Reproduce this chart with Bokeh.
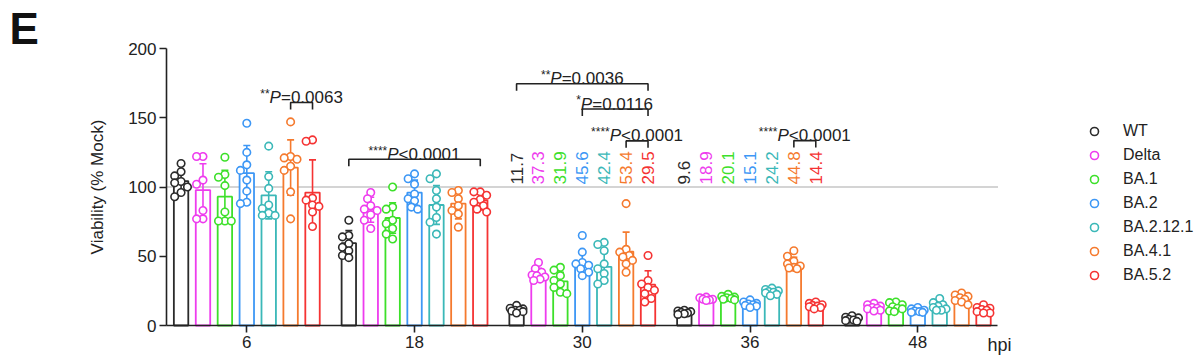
import math
from bokeh.plotting import figure
from bokeh.models import ColumnDataSource, FixedTicker, Label, Legend, LegendItem, Range1d
from bokeh.core.properties import value
from bokeh.embed import file_html
from bokeh.resources import INLINE

FONT = "Liberation Sans"

# ---------------- data ----------------
series = ["WT", "Delta", "BA.1", "BA.2", "BA.2.12.1", "BA.4.1", "BA.5.2"]
colors = ["#2b2b2b", "#ee3cee", "#3de02a", "#3d97f5", "#3bb8b8", "#f57a2e", "#f53333"]
timepoints = ["6", "18", "30", "36", "48"]

means_6 = [104.3, 97.8, 93.0, 110.0, 94.0, 114.0, 96.0]
means_18 = [59.5, 83.6, 77.6, 96.0, 87.0, 88.0, 90.4]
means_30 = [11.7, 37.3, 31.9, 45.6, 42.4, 53.4, 29.5]
means_36 = [9.6, 18.9, 20.1, 15.1, 24.2, 44.8, 14.4]
means_48 = [4.8, 12.5, 13.0, 10.5, 13.5, 18.5, 11.5]

sd_6 = [7, 19, 19, 20, 17, 20, 23.6]
sd_18 = [9, 9, 11, 9, 14, 11, 7]
sd_30 = [2, 4, 6.5, 8, 10, 14, 10]
sd_36 = [1.2, 1.2, 1.5, 2, 2, 4.5, 1.8]
sd_48 = [1.5, 2, 2.5, 1.5, 3, 3, 2]

points_6 = [
    [117, 111, 108, 104, 103, 100, 96, 93],
    [122, 122, 105, 102, 83, 77, 77],
    [121.5, 109, 107, 101, 82, 75.5, 75.5, 75.5],
    [146, 125, 116, 112, 105, 97, 89, 88],
    [129.5, 107.5, 99, 87, 84.5, 81, 79.5, 79.5],
    [147, 122, 121, 120, 115, 112, 96.5, 77],
    [134, 133, 92, 90.5, 87, 86, 82, 71.5],
]
points_18 = [
    [76, 65, 64, 59, 56.5, 54, 50.5, 49],
    [96, 91.5, 86.5, 84, 83, 80, 76, 70],
    [100, 85.5, 84, 76, 73.5, 70, 66, 62.5],
    [109.5, 106, 102, 95, 91.5, 90, 85.5, 84],
    [109.5, 106, 97.5, 91.5, 85.5, 78, 74.5, 66],
    [97.5, 96, 91.5, 86.5, 83, 80.5, 71],
    [96.5, 96.5, 94, 91, 89, 86.5, 84, 82],
]
points_30 = [
    [14.5, 12.5, 12, 11, 11, 10.5, 10, 9],
    [45.5, 41, 38.5, 36.5, 36, 35, 33.5, 32.5],
    [42, 40, 36, 32.5, 30, 27.5, 24, 23],
    [65, 53, 45.5, 44.5, 43.5, 41, 38.5, 36],
    [60, 58.5, 54, 44.5, 41, 37.5, 32.5, 30],
    [88, 55, 53, 50.5, 49.5, 47, 44.5, 38.5],
    [50.5, 32.5, 30, 27.5, 25.5, 23, 19.5, 17],
]
points_36 = [
    [11, 10.5, 10, 9.5, 9, 8.5, 8],
    [20.5, 20, 19, 19, 18.5, 18],
    [22.5, 21, 20.5, 20, 19.5, 19, 18.5],
    [18.5, 17, 16, 15.5, 15, 14.5, 14, 13],
    [27, 26, 25, 24.5, 24, 23.5, 22.5, 21.5],
    [54, 50, 46.5, 44.5, 43, 42, 41.5, 41],
    [17, 16, 15, 14.5, 14, 13.5, 13, 12],
]
points_48 = [
    [7, 6, 5.5, 4.5, 4, 3.5, 3],
    [16, 15, 14, 13, 12.5, 12, 11, 10.5],
    [17, 16.5, 15, 13.5, 12.5, 12, 10.5, 10],
    [13, 12, 11, 10.5, 10, 9.5, 9.5],
    [19.5, 16.5, 15, 14, 13, 12, 11, 11],
    [23.5, 22, 21, 20, 19, 18, 17, 15],
    [15, 13, 12.5, 11.5, 11, 10, 9, 9],
]

# mean labels shown above the bars at 30 and 36 hpi
label_groups = [2, 3]
label_values = [means_30, means_36]

# significance annotations
sig_groups = [0, 1, 2, 2, 2, 3]
sig_from = [5, 0, 0, 3, 5, 5]
sig_to = [6, 6, 6, 6, 6, 6]
sig_y = [161, 120, 174.5, 156.3, 133.3, 133.5]
sig_stars = ["**", "****", "**", "*", "****", "****"]
sig_rest = ["=0.0063", "<0.0001", "=0.0036", "=0.0116", "<0.0001", "<0.0001"]

reference_line = 100
y_ticks = [0, 50, 100, 150, 200]

all_means = [means_6, means_18, means_30, means_36, means_48]
all_sd = [sd_6, sd_18, sd_30, sd_36, sd_48]
all_points = [points_6, points_18, points_30, points_36, points_48]

# ---------------- layout constants (pixels) ----------------
W, H = 1200, 363
PX_X = 167.75          # px per group
PX_Y = 1.385           # px per % unit
G0_PX = 246.3          # x pixel of first group
Y0_PX = 325.0          # y pixel (from top) of value 0
XR = (-G0_PX / PX_X, (W - G0_PX) / PX_X)
YR = ((Y0_PX - H) / PX_Y, Y0_PX / PX_Y)
AX_LEFT = (166 - G0_PX) / PX_X
AX_RIGHT = (997 - G0_PX) / PX_X
STEP = 0.1306
BAR_W = 0.086


def xpos(g, s):
    return g + (s - 3) * STEP


def swarm(vals, d=6.6):
    placed, offs = [], []
    cands = [0, -3.2, 3.2, -6.4, 6.4, -1.6, 1.6, -4.8, 4.8]
    for v in vals:
        y = v * PX_Y
        best, best_score = 0, None
        for c in cands:
            mind = min([math.hypot(c - px, y - py) for px, py in placed] or [99])
            if mind >= d:
                best = c
                break
            if best_score is None or mind > best_score:
                best, best_score = c, mind
        placed.append((best, y))
        offs.append(best / PX_X)
    return offs


METRIC = {"*": 0.389, "P": 0.667, "=": 0.584, "<": 0.584, ".": 0.278}


def tw(s, size):
    return sum(METRIC.get(c, 0.556) for c in s) * size


# ---------------- figure ----------------
p = figure(width=W, height=H, x_range=Range1d(*XR), y_range=Range1d(*YR),
           output_backend="svg", toolbar_location=None,
           min_border_left=0, min_border_right=0, min_border_top=0, min_border_bottom=0)
p.grid.visible = False
p.outline_line_color = None
p.background_fill_color = "white"

# bars + error bars
bx, btop, bcol = [], [], []
ex0, ey0, ex1, ey1, ecol = [], [], [], [], []
cap = 3.5 / PX_X
for g in range(5):
    for s in range(7):
        x = xpos(g, s)
        m = all_means[g][s]
        sd = all_sd[g][s]
        bx.append(x); btop.append(m); bcol.append(colors[s])
        lo, hi = max(m - sd, 0), m + sd
        ex0 += [x, x - cap, x - cap]
        ex1 += [x, x + cap, x + cap]
        ey0 += [lo, hi, lo]
        ey1 += [hi, hi, lo]
        ecol += [colors[s]] * 3

p.vbar(x="x", top="top", bottom=0, width=BAR_W, fill_color="white", line_color="color",
       line_width=1.8, source=ColumnDataSource(dict(x=bx, top=btop, color=bcol)))
p.segment(x0="x0", y0="y0", x1="x1", y1="y1", line_color="color", line_width=1.6,
          source=ColumnDataSource(dict(x0=ex0, y0=ey0, x1=ex1, y1=ey1, color=ecol)))

# reference line (dotted) between the axis ends
p.segment(x0=[AX_LEFT], y0=[reference_line], x1=[AX_RIGHT], y1=[reference_line],
          line_color="#555555", line_width=1.2, line_dash="1 1", level="underlay")

# points
renderers = []
for s in range(7):
    xs, ys = [], []
    for g in range(5):
        vals = all_points[g][s]
        offs = swarm(vals)
        xs += [xpos(g, s) + o for o in offs]
        ys += vals
    r = p.scatter(x=xs, y=ys, marker="circle", size=7.5, fill_color="white",
                  line_color=colors[s], line_width=1.6)
    renderers.append(r)

# rotated mean labels
lx, ltxt, lcol = [], [], []
for g, vals in zip(label_groups, label_values):
    for s in range(7):
        lx.append(xpos(g, s)); ltxt.append(f"{vals[s]:.1f}"); lcol.append(colors[s])
p.text(x="x", y=101.8, text="t", angle=math.pi / 2, text_align="left", text_baseline="middle",
       text_color="c", text_font=value(FONT), text_font_size="17px",
       source=ColumnDataSource(dict(x=lx, t=ltxt, c=lcol)))

# significance brackets + texts
bxs, bys = [], []
st_x, st_y, st_t, st_o = [], [], [], []
pp_x, pp_y, pp_o = [], [], []
rr_x, rr_y, rr_t, rr_o = [], [], [], []
for g, a, b, yb, stars, rest in zip(sig_groups, sig_from, sig_to, sig_y, sig_stars, sig_rest):
    xa, xb = xpos(g, a), xpos(g, b)
    bxs.append([xa, xa, xb, xb]); bys.append([yb - 5, yb, yb, yb - 5])
    cx = (xa + xb) / 2
    w_st, w_p, w_r = tw(stars, 12), tw("P", 17), tw(rest, 17)
    left = -(w_st + w_p + w_r) / 2
    ty = yb + 3.6
    st_x.append(cx); st_y.append(ty + 2.6); st_t.append(stars); st_o.append(left)
    pp_x.append(cx); pp_y.append(ty); pp_o.append(left + w_st)
    rr_x.append(cx); rr_y.append(ty); rr_t.append(rest); rr_o.append(left + w_st + w_p)

p.multi_line(xs=bxs, ys=bys, line_color="#222222", line_width=1.6)
p.text(x="x", y="y", text="t", x_offset="o", text_align="left", text_baseline="alphabetic",
       text_color="#222222", text_font=value(FONT), text_font_size="12px",
       source=ColumnDataSource(dict(x=st_x, y=st_y, t=st_t, o=st_o)))
p.text(x="x", y="y", text=value("P"), x_offset="o", text_align="left", text_baseline="alphabetic",
       text_color="#222222", text_font=value(FONT), text_font_size="17px", text_font_style="italic",
       source=ColumnDataSource(dict(x=pp_x, y=pp_y, o=pp_o)))
p.text(x="x", y="y", text="t", x_offset="o", text_align="left", text_baseline="alphabetic",
       text_color="#222222", text_font=value(FONT), text_font_size="17px",
       source=ColumnDataSource(dict(x=rr_x, y=rr_y, t=rr_t, o=rr_o)))

# axes (drawn at fixed data locations)
xa = p.xaxis[0]
ya = p.yaxis[0]
xa.fixed_location = 0
xa.bounds = (AX_LEFT, AX_RIGHT)
ya.fixed_location = AX_LEFT
ya.bounds = (0, 200)
xa.ticker = FixedTicker(ticks=list(range(len(timepoints))))
xa.major_label_overrides = {i: t for i, t in enumerate(timepoints)}
ya.ticker = FixedTicker(ticks=y_ticks)
for ax in (xa, ya):
    ax.axis_line_width = 1.6
    ax.axis_line_color = "#222222"
    ax.major_tick_line_color = "#222222"
    ax.major_tick_line_width = 1.6
    ax.major_tick_out = 7
    ax.major_tick_in = 0
    ax.minor_tick_out = 0
    ax.minor_tick_in = 0
    ax.major_label_text_font = FONT
    ax.major_label_text_font_size = "17px"
    ax.major_label_text_color = "#222222"
xa.major_label_standoff = 3
ya.major_label_standoff = 3
ya.axis_label = "Viability (% Mock)"
ya.axis_label_text_font = FONT
ya.axis_label_text_font_size = "17px"
ya.axis_label_text_font_style = "normal"
ya.axis_label_text_color = "#222222"
ya.axis_label_standoff = 18

# hpi and panel letter
p.add_layout(Label(x=(987 - G0_PX) / PX_X, y=(Y0_PX - 344) / PX_Y, text="hpi", text_font=FONT,
                   text_font_size="18px", text_baseline="middle", text_align="left",
                   text_color="#222222"))
p.add_layout(Label(x=(9 - G0_PX) / PX_X, y=(Y0_PX - 27.5) / PX_Y, text="E", text_font=FONT,
                   text_font_size="44px", text_font_style="bold", text_baseline="middle",
                   text_align="left", text_color="#111111"))

# legend
legend = Legend(items=[LegendItem(label=s, renderers=[r]) for s, r in zip(series, renderers)],
                location=(1084, 78), orientation="vertical", border_line_alpha=0,
                background_fill_alpha=0, label_text_font=FONT, label_text_font_size="16px",
                label_text_color="#222222", glyph_width=20, glyph_height=20, label_height=20,
                spacing=4, label_standoff=19, padding=0, margin=0)
p.add_layout(legend, "center")

open("out.html", "w").write(file_html(p, INLINE))
